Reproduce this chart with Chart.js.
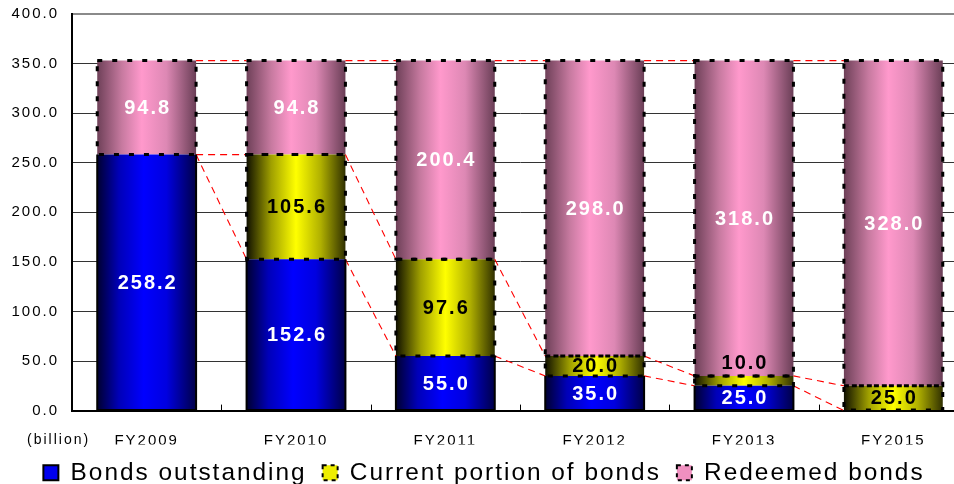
<!DOCTYPE html>
<html>
<head>
<meta charset="utf-8">
<script src="https://cdn.jsdelivr.net/npm/chart.js@4.4.1/dist/chart.umd.min.js"></script>
<style>
  html, body { margin: 0; padding: 0; background: #fff; overflow: hidden; }
  #wrap { width: 968px; height: 484px; }
</style>
</head>
<body>
<div id="wrap"><canvas id="bondsChart" width="968" height="484"></canvas></div>
<script>
var years = ['FY2009', 'FY2010', 'FY2011', 'FY2012', 'FY2013', 'FY2015'];
var outstanding = [258.2, 152.6, 55.0, 35.0, 25.0, 0];
var currentPortion = [0, 105.6, 97.6, 20.0, 10.0, 25.0];
var redeemed = [94.8, 94.8, 200.4, 298.0, 318.0, 328.0];
var yTicks = [0, 50, 100, 150, 200, 250, 300, 350, 400];
var seriesNames = ['Bonds outstanding', 'Current portion of bonds', 'Redeemed bonds'];

var BAR_PCT = 0.662;
var FONT = "'Liberation Sans', Arial, sans-serif";

// colour stops for the cylinder-like shading, left -> right
var blueStops = [[0, '#000030'], [0.22, '#0000b8'], [0.47, '#0000ff'], [0.7, '#0000e0'], [1, '#000048']];
var yellowStops = [[0, '#101000'], [0.25, '#a0a000'], [0.5, '#ffff00'], [0.75, '#b0b000'], [1, '#303000']];
var pinkStops = [[0, '#6e4058'], [0.25, '#c77aa0'], [0.45, '#ff99cc'], [0.7, '#dd88b4'], [1, '#6a3e56']];

function cylinder(stops, flat) {
    return function (c) {
        var chart = c.chart, xs = chart.scales.x;
        if (c.type !== 'data' || !chart.chartArea || !xs) return flat;
        var cx = xs.getPixelForValue(c.dataIndex);
        var w = xs.width / years.length * BAR_PCT;
        var g = chart.ctx.createLinearGradient(cx - w / 2, 0, cx + w / 2, 0);
        stops.forEach(function (s) { g.addColorStop(s[0], s[1]); });
        return g;
    };
}

// canvas letter spacing, the original text is drawn quite loose
var spacingPlugin = {
    id: 'spacing',
    beforeLayout: function (chart) { chart.ctx.letterSpacing = '2px'; },
    beforeDraw: function (chart) { chart.ctx.letterSpacing = '2px'; }
};

var decorPlugin = {
    id: 'decor',
    afterDatasetsDraw: function (chart) {
        var ctx = chart.ctx, area = chart.chartArea;
        var metas = [0, 1, 2].map(function (i) { return chart.getDatasetMeta(i); });
        var data = [outstanding, currentPortion, redeemed];

        ctx.save();
        // red dashed series lines between bars
        ctx.strokeStyle = '#ff0000';
        ctx.lineWidth = 1.1;
        ctx.setLineDash([7, 5]);
        metas.forEach(function (meta) {
            for (var i = 0; i < meta.data.length - 1; i++) {
                var a = meta.data[i], b = meta.data[i + 1];
                ctx.beginPath();
                ctx.moveTo(a.x + a.width / 2, a.y);
                ctx.lineTo(b.x - b.width / 2, b.y);
                ctx.stroke();
            }
        });

        // borders: solid for the blue part, dashed for the rest
        metas.forEach(function (meta, di) {
            meta.data.forEach(function (el, i) {
                if (!data[di][i]) return;
                var l = el.x - el.width / 2, r = el.x + el.width / 2;
                ctx.strokeStyle = '#000';
                if (di === 0) {
                    ctx.setLineDash([]);
                    ctx.lineWidth = 2;
                    ctx.beginPath();
                    ctx.moveTo(l, el.y);
                    ctx.lineTo(l, el.base);
                    ctx.lineTo(r, el.base);
                    ctx.lineTo(r, el.y);
                    ctx.stroke();
                } else {
                    ctx.setLineDash([5, 10]);
                    ctx.lineWidth = 3;
                    ctx.strokeRect(l, el.y, el.width, el.base - el.y);
                }
            });
        });

        // inner tick marks on the category axis
        ctx.setLineDash([]);
        ctx.lineWidth = 1;
        ctx.strokeStyle = '#000';
        var step = (area.right - area.left) / years.length;
        for (var k = 1; k < years.length; k++) {
            var x = Math.round(area.left + k * step) + 0.5;
            ctx.beginPath();
            ctx.moveTo(x, area.bottom);
            ctx.lineTo(x, area.bottom - 6);
            ctx.stroke();
        }

        // value labels
        var labelColors = ['#ffffff', '#000000', '#ffffff'];
        ctx.font = 'bold 20px ' + FONT;
        ctx.letterSpacing = '2px';
        ctx.textAlign = 'center';
        ctx.textBaseline = 'middle';
        metas.forEach(function (meta, di) {
            meta.data.forEach(function (el, i) {
                var v = data[di][i];
                if (!v) return;
                var cy = (el.y + el.base) / 2;
                if (el.base - el.y < 16) cy = el.y - 13; // too thin, put it above
                ctx.fillStyle = labelColors[di];
                ctx.fillText(v.toFixed(1), el.x + 1, cy + 1);
            });
        });
        ctx.restore();
    },
    afterDraw: function (chart) {
        var ctx = chart.ctx;
        ctx.save();
        ctx.font = '14px ' + FONT;
        ctx.letterSpacing = '2px';
        ctx.fillStyle = '#000';
        ctx.textAlign = 'left';
        ctx.textBaseline = 'middle';
        ctx.fillText('(billion)', 27, 440);
        ctx.restore();
    }
};

Chart.defaults.font.family = FONT;
Chart.defaults.color = '#000';

var ctx = document.getElementById('bondsChart').getContext('2d');
var bondsChart = new Chart(ctx, {
    type: 'bar',
    data: {
        labels: years,
        datasets: [{
            label: seriesNames[0],
            data: outstanding,
            backgroundColor: cylinder(blueStops, '#0000ff'),
            borderWidth: 0
        }, {
            label: seriesNames[1],
            data: currentPortion,
            backgroundColor: cylinder(yellowStops, '#ffff00'),
            borderWidth: 0
        }, {
            label: seriesNames[2],
            data: redeemed,
            backgroundColor: cylinder(pinkStops, '#ff99cc'),
            borderWidth: 0
        }]
    },
    options: {
        responsive: false,
        animation: false,
        events: [],
        layout: { padding: { top: 14, left: 0, right: 0, bottom: -11 } },
        datasets: { bar: { categoryPercentage: 1, barPercentage: BAR_PCT } },
        scales: {
            x: {
                stacked: true,
                grid: { display: false },
                border: { display: true, color: '#000', width: 2 },
                ticks: { font: { size: 15 }, padding: 13, maxRotation: 0, autoSkip: false },
                afterFit: function (scale) { scale.height = 34; }
            },
            y: {
                stacked: true,
                min: 0,
                max: 400,
                afterBuildTicks: function (scale) {
                    scale.ticks = yTicks.map(function (v) { return { value: v }; });
                },
                grid: {
                    drawTicks: true,
                    tickLength: 13,
                    tickColor: 'rgba(0,0,0,0)',
                    color: function (c) { return c.tick && c.tick.value === 400 ? '#8a8a8a' : '#333'; },
                    lineWidth: function (c) { return c.tick && c.tick.value === 400 ? 2 : 1; }
                },
                border: { display: true, color: '#000', width: 2 },
                ticks: {
                    font: { size: 15 },
                    padding: 0,
                    callback: function (value) { return Number(value).toFixed(1); }
                },
                afterFit: function (scale) { scale.width = 72; }
            }
        },
        plugins: {
            tooltip: { enabled: false },
            legend: {
                position: 'bottom',
                labels: {
                    font: { size: 24.4 },
                    boxWidth: 15,
                    boxHeight: 15,
                    padding: 16,
                    generateLabels: function (chart) {
                        var fills = ['#0000ee', '#eeee00', '#f090c0'];
                        return seriesNames.map(function (name, i) {
                            return {
                                text: name,
                                fillStyle: fills[i],
                                strokeStyle: '#000',
                                lineWidth: 2,
                                lineDash: i === 0 ? [] : [4, 4],
                                hidden: false,
                                datasetIndex: i
                            };
                        });
                    }
                }
            }
        }
    },
    plugins: [spacingPlugin, decorPlugin]
});
</script>
</body>
</html>
